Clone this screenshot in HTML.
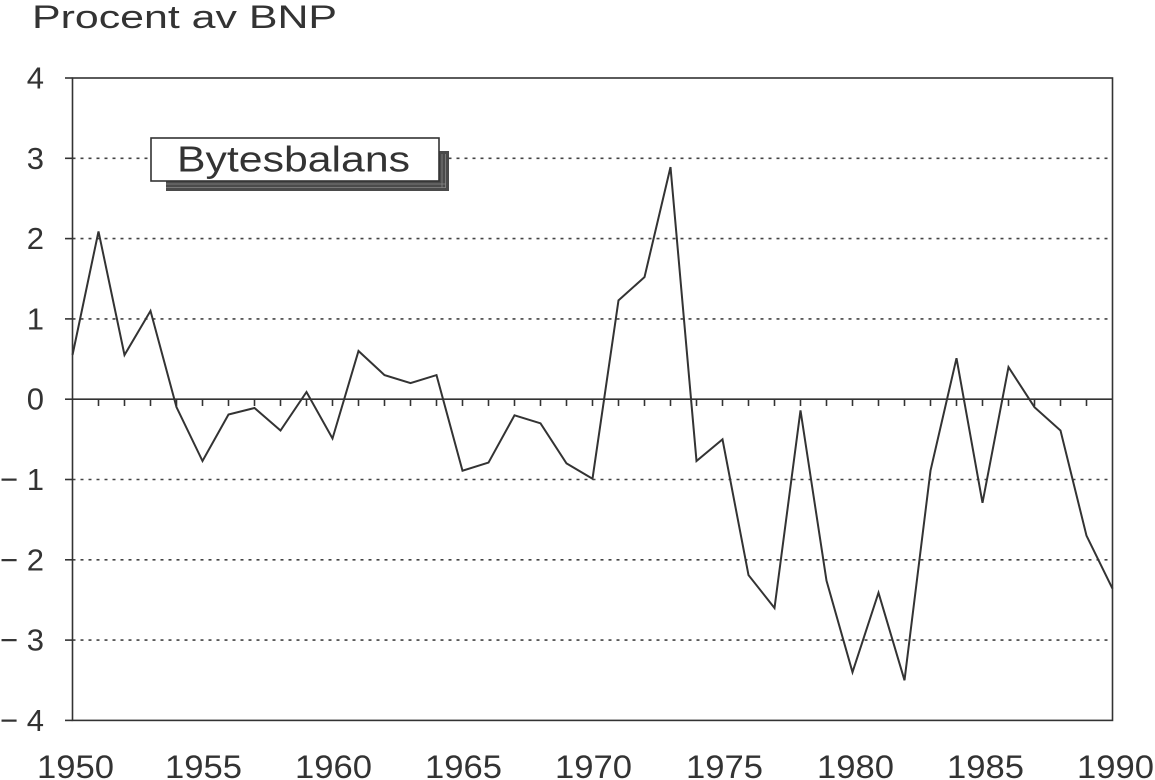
<!DOCTYPE html>
<html>
<head>
<meta charset="utf-8">
<style>
html,body{margin:0;padding:0;background:#fff;}
svg{display:block;}
text{font-family:"Liberation Sans",sans-serif;fill:#333;}
</style>
</head>
<body>
<svg width="1155" height="780" viewBox="0 0 1155 780" xmlns="http://www.w3.org/2000/svg">
<rect x="0" y="0" width="1155" height="780" fill="#fff"/>
<!-- title -->
<text x="32" y="28" font-size="32" textLength="305" lengthAdjust="spacingAndGlyphs">Procent av BNP</text>

<!-- gridlines -->
<g stroke="#444" stroke-width="1.6" stroke-dasharray="3 5">
<line x1="72.5" y1="158.3" x2="1112.5" y2="158.3"/>
<line x1="72.5" y1="238.6" x2="1112.5" y2="238.6"/>
<line x1="72.5" y1="318.9" x2="1112.5" y2="318.9"/>
<line x1="72.5" y1="479.5" x2="1112.5" y2="479.5"/>
<line x1="72.5" y1="559.8" x2="1112.5" y2="559.8"/>
<line x1="72.5" y1="640.1" x2="1112.5" y2="640.1"/>
</g>

<!-- frame -->
<g stroke="#333" stroke-width="1.6" fill="none">
<rect x="72.5" y="78" width="1040" height="642.4"/>
<line x1="72.5" y1="399.2" x2="1112.5" y2="399.2"/>
<!-- y ticks -->
<line x1="65" y1="78" x2="72.5" y2="78"/>
<line x1="65" y1="158.3" x2="72.5" y2="158.3"/>
<line x1="65" y1="238.6" x2="72.5" y2="238.6"/>
<line x1="65" y1="318.9" x2="72.5" y2="318.9"/>
<line x1="65" y1="399.2" x2="72.5" y2="399.2"/>
<line x1="65" y1="479.5" x2="72.5" y2="479.5"/>
<line x1="65" y1="559.8" x2="72.5" y2="559.8"/>
<line x1="65" y1="640.1" x2="72.5" y2="640.1"/>
<line x1="65" y1="720.4" x2="72.5" y2="720.4"/>
</g>
<!-- year ticks on zero line -->
<g stroke="#333" stroke-width="1.6">
<line x1="98.5" y1="399" x2="98.5" y2="406"/><line x1="124.5" y1="399" x2="124.5" y2="406"/><line x1="150.5" y1="399" x2="150.5" y2="406"/><line x1="176.5" y1="399" x2="176.5" y2="406"/><line x1="202.5" y1="399" x2="202.5" y2="406"/>
<line x1="228.5" y1="399" x2="228.5" y2="406"/><line x1="254.5" y1="399" x2="254.5" y2="406"/><line x1="280.5" y1="399" x2="280.5" y2="406"/><line x1="306.5" y1="399" x2="306.5" y2="406"/><line x1="332.5" y1="399" x2="332.5" y2="406"/>
<line x1="358.5" y1="399" x2="358.5" y2="406"/><line x1="384.5" y1="399" x2="384.5" y2="406"/><line x1="410.5" y1="399" x2="410.5" y2="406"/><line x1="436.5" y1="399" x2="436.5" y2="406"/><line x1="462.5" y1="399" x2="462.5" y2="406"/>
<line x1="488.5" y1="399" x2="488.5" y2="406"/><line x1="514.5" y1="399" x2="514.5" y2="406"/><line x1="540.5" y1="399" x2="540.5" y2="406"/><line x1="566.5" y1="399" x2="566.5" y2="406"/><line x1="592.5" y1="399" x2="592.5" y2="406"/>
<line x1="618.5" y1="399" x2="618.5" y2="406"/><line x1="644.5" y1="399" x2="644.5" y2="406"/><line x1="670.5" y1="399" x2="670.5" y2="406"/><line x1="696.5" y1="399" x2="696.5" y2="406"/><line x1="722.5" y1="399" x2="722.5" y2="406"/>
<line x1="748.5" y1="399" x2="748.5" y2="406"/><line x1="774.5" y1="399" x2="774.5" y2="406"/><line x1="800.5" y1="399" x2="800.5" y2="406"/><line x1="826.5" y1="399" x2="826.5" y2="406"/><line x1="852.5" y1="399" x2="852.5" y2="406"/>
<line x1="878.5" y1="399" x2="878.5" y2="406"/><line x1="904.5" y1="399" x2="904.5" y2="406"/><line x1="930.5" y1="399" x2="930.5" y2="406"/><line x1="956.5" y1="399" x2="956.5" y2="406"/><line x1="982.5" y1="399" x2="982.5" y2="406"/>
<line x1="1008.5" y1="399" x2="1008.5" y2="406"/><line x1="1034.5" y1="399" x2="1034.5" y2="406"/><line x1="1060.5" y1="399" x2="1060.5" y2="406"/><line x1="1086.5" y1="399" x2="1086.5" y2="406"/>
</g>

<!-- legend box with shadow -->
<rect x="166" y="151" width="283" height="40" fill="#4a4a4a"/>
<g stroke="#888" stroke-width="0.8">
<line x1="166" y1="184" x2="446" y2="184"/>
<line x1="166" y1="187.5" x2="446" y2="187.5"/>
<line x1="442" y1="154" x2="442" y2="188"/>
<line x1="445.5" y1="154" x2="445.5" y2="188"/>
</g>
<rect x="151" y="138" width="288" height="43" fill="#fff" stroke="#333" stroke-width="1.6"/>
<text x="177" y="171.5" font-size="36" textLength="233" lengthAdjust="spacingAndGlyphs">Bytesbalans</text>

<!-- series -->
<polyline fill="none" stroke="#333" stroke-width="2" stroke-linejoin="miter" points="72.5,355.0 98.5,231.4 124.5,355.0 150.5,310.9 176.5,407.2 202.5,461.0 228.5,414.5 254.5,408.0 280.5,430.5 306.5,392.0 332.5,438.5 358.5,351.0 384.5,375.1 410.5,383.1 436.5,375.1 462.5,470.7 488.5,462.6 514.5,415.3 540.5,423.3 566.5,463.4 592.5,478.7 618.5,300.4 644.5,277.1 670.5,167.1 696.5,461.0 722.5,439.4 748.5,575.1 774.5,608.0 800.5,410.4 826.5,580.7 852.5,672.2 878.5,592.7 904.5,680.3 930.5,470.7 956.5,358.2 982.5,502.8 1008.5,367.1 1034.5,407.2 1060.5,430.5 1086.5,535.7 1112.5,588.7"/>

<!-- y labels -->
<g font-size="31" text-anchor="end">
<text x="44" y="88.5">4</text>
<text x="44" y="168.8">3</text>
<text x="44" y="249.1">2</text>
<text x="44" y="329.4">1</text>
<text x="44" y="409.7">0</text>
<text x="44" y="490">1</text>
<text x="44" y="570.3">2</text>
<text x="44" y="650.6">3</text>
<text x="44" y="730.9">4</text>
</g>
<g font-size="31">
<text x="0" y="490">−</text>
<text x="0" y="570.3">−</text>
<text x="0" y="650.6">−</text>
<text x="0" y="730.9">−</text>
</g>

<!-- x labels -->
<g font-size="32">
<text x="37" y="778" textLength="77" lengthAdjust="spacingAndGlyphs">1950</text>
<text x="165" y="778" textLength="77" lengthAdjust="spacingAndGlyphs">1955</text>
<text x="295" y="778" textLength="77" lengthAdjust="spacingAndGlyphs">1960</text>
<text x="425" y="778" textLength="77" lengthAdjust="spacingAndGlyphs">1965</text>
<text x="555" y="778" textLength="77" lengthAdjust="spacingAndGlyphs">1970</text>
<text x="686" y="778" textLength="77" lengthAdjust="spacingAndGlyphs">1975</text>
<text x="817" y="778" textLength="77" lengthAdjust="spacingAndGlyphs">1980</text>
<text x="947" y="778" textLength="77" lengthAdjust="spacingAndGlyphs">1985</text>
<text x="1077" y="778" textLength="77" lengthAdjust="spacingAndGlyphs">1990</text>
</g>
</svg>
</body>
</html>
